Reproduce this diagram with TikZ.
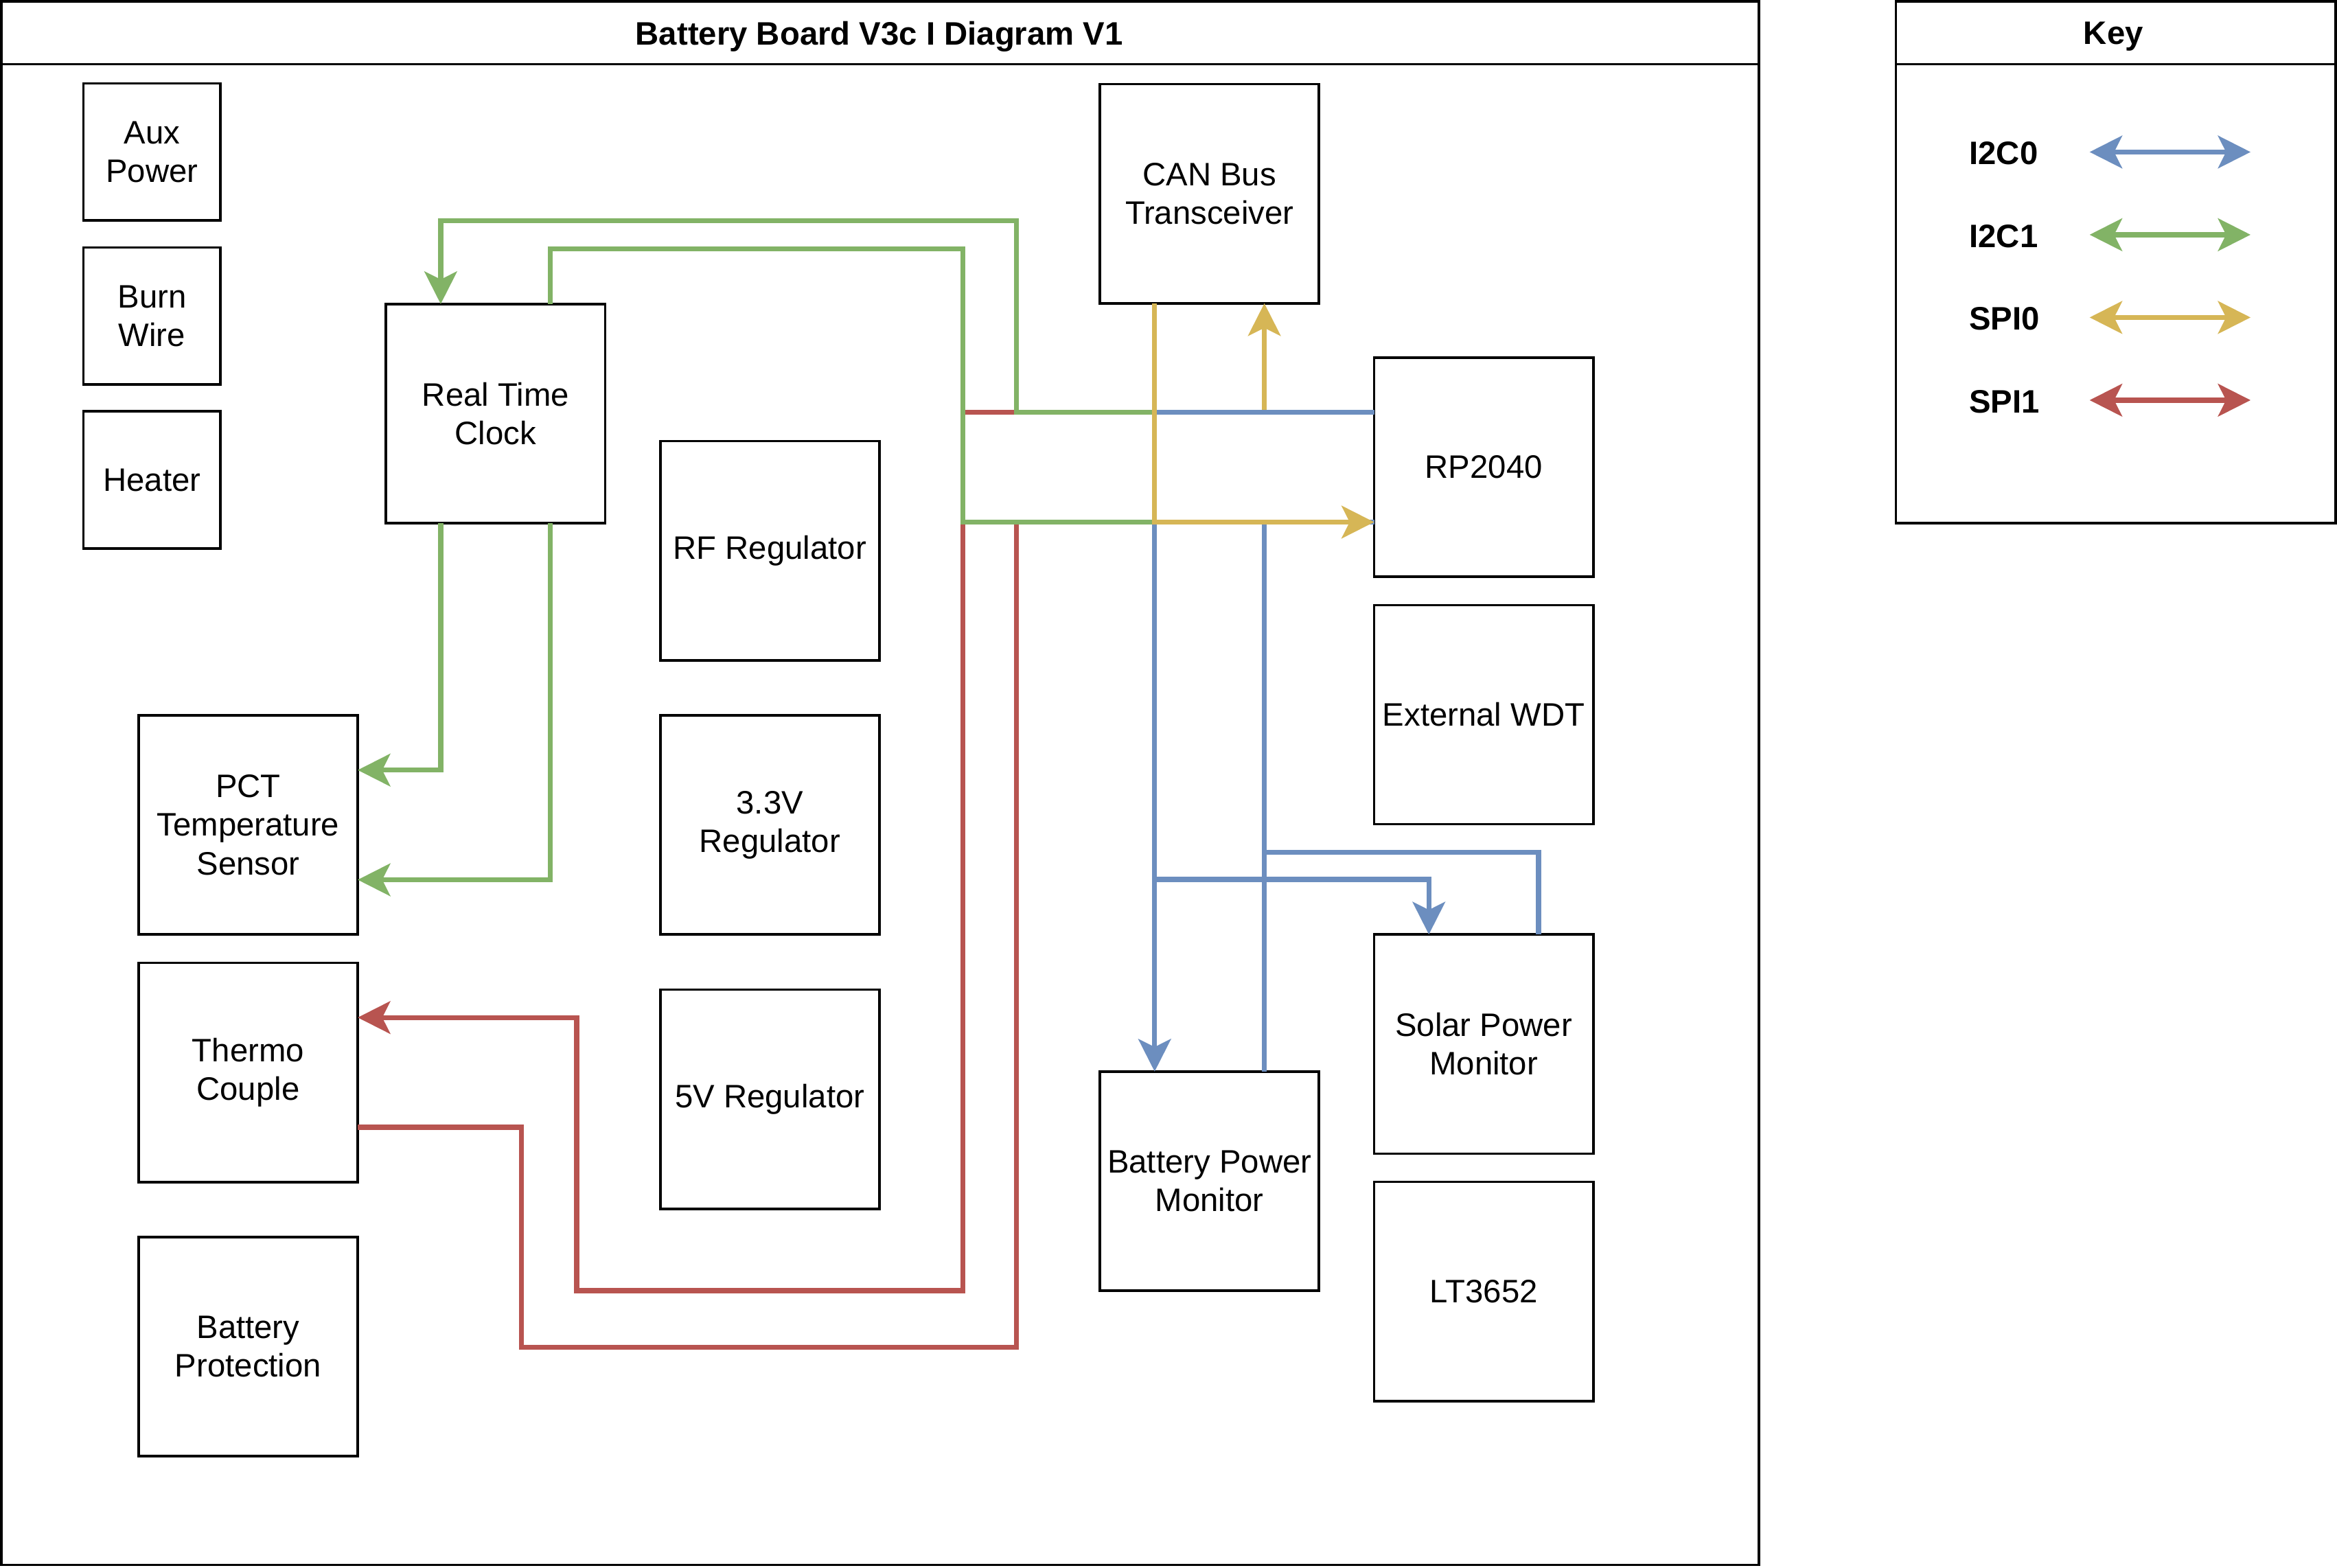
\documentclass[tikz,border=0pt]{standalone}
\usepackage{fontspec}
\setmainfont{Liberation Sans}
\usetikzlibrary{arrows.meta,positioning}
\definecolor{bluebus}{HTML}{6C8EBF}
\definecolor{greenbus}{HTML}{82B366}
\definecolor{yellowbus}{HTML}{D6B656}
\definecolor{redbus}{HTML}{B85450}

\begin{document}
\begin{tikzpicture}[x=0.025cm,y=-0.025cm,
  >={Stealth[length=15.5pt,width=15.5pt,inset=3.8pt]},
  block node/.style={rectangle,draw,line width=1.2pt,minimum width=3.675cm,
    minimum height=3.675cm,inner sep=0pt,outer sep=0pt,align=center,
    font=\fontsize{15.5}{18.5}\selectfont},
  small node/.style={block node,minimum width=2.3cm,minimum height=2.3cm},
  head node/.style={font=\fontsize{15.5}{18.5}\selectfont\bfseries},
  key node/.style={head node,anchor=west,inner sep=0pt},
  frame/.style={line width=1.2pt},
  i2c0/.style={line width=2.4pt,draw=bluebus},
  i2c1/.style={line width=2.4pt,draw=greenbus},
  spi0/.style={line width=2.4pt,draw=yellowbus},
  spi1/.style={line width=2.4pt,draw=redbus}]

  \useasboundingbox (0,0) rectangle (1568,1052);

  % frames
  \draw[frame] (1,1) rectangle (1180,1050);
  \draw[frame] (1,43) -- (1180,43);
  \draw[frame] (1272,1) rectangle (1567,351);
  \draw[frame] (1272,43) -- (1567,43);
  \node[head node] (title) at (590,24.5) {Battery Board V3c I Diagram V1};
  \node[head node] (key) at (1418,24.5) {Key};

  \node[small node] (aux) at (102,102) {Aux\\Power};
  \node[small node] (burn) [below=0.45cm of aux] {Burn\\Wire};
  \node[small node] (heater) [below=0.45cm of burn] {Heater};

  \node[block node] (rtc) at (332.5,277.5) {Real Time\\Clock};
  \node[block node] (pct) at (166.5,553.5) {PCT\\Temperature\\Sensor};
  \node[block node] (tc) [below=0.475cm of pct] {Thermo\\Couple};
  \node[block node] (bprot) [below=0.925cm of tc] {Battery\\Protection};

  \node[block node] (rfreg) at (516.5,369.5) {RF Regulator};
  \node[block node] (reg33) [below=0.925cm of rfreg] {3.3V\\Regulator};
  \node[block node] (reg5) [below=0.925cm of reg33] {5V Regulator};

  \node[block node] (can) at (811.5,130) {CAN Bus\\Transceiver};
  \node[block node] (bpm) at (811.5,792.5) {Battery Power\\Monitor};
  \node[block node] (rp) at (995.5,313.5) {RP2040};
  \node[block node] (wdt) [below=0.475cm of rp] {External WDT};
  \node[block node] (spm) at (995.5,700.5) {Solar Power\\Monitor};
  \node[block node] (lt) [below=0.475cm of spm] {LT3652};

  % ports
  \coordinate (rpA) at ([yshift=0.92cm]rp.west);
  \coordinate (rpB) at ([yshift=-0.92cm]rp.west);
  \coordinate (canA) at ([xshift=-0.92cm]can.south);
  \coordinate (canB) at ([xshift=0.92cm]can.south);
  \coordinate (rtcA) at ([xshift=-0.92cm]rtc.north);
  \coordinate (rtcB) at ([xshift=0.92cm]rtc.north);
  \coordinate (rtcC) at ([xshift=-0.92cm]rtc.south);
  \coordinate (rtcD) at ([xshift=0.92cm]rtc.south);
  \coordinate (pctA) at ([yshift=0.92cm]pct.east);
  \coordinate (pctB) at ([yshift=-0.92cm]pct.east);
  \coordinate (tcA) at ([yshift=0.92cm]tc.east);
  \coordinate (tcB) at ([yshift=-0.92cm]tc.east);
  \coordinate (bpmA) at ([xshift=-0.92cm]bpm.north);
  \coordinate (bpmB) at ([xshift=0.92cm]bpm.north);
  \coordinate (spmA) at ([xshift=-0.92cm]spm.north);
  \coordinate (spmB) at ([xshift=0.92cm]spm.north);

  % SPI1
  \draw[spi1,->] (rpA) -| (646,866) -- (387,866) |- (tcA);
  \draw[spi1] (rpB) -| (682,904) -- (350,904) |- (tcB);
  % I2C1
  \draw[i2c1,->] (rpA) -| (682,148) -| (rtcA);
  \draw[i2c1] (rpB) -| (646,167) -| (rtcB);
  \draw[i2c1,->] (rtcC) |- (pctA);
  \draw[i2c1,->] (rtcD) |- (pctB);
  % SPI0 to CAN
  \draw[spi0,->] (rpA) -| (canB);
  % I2C0
  \draw[i2c0,->] (rpA) -| (bpmA);
  \draw[i2c0,->] (bpmA |- 0,590) -| (spmA);
  \draw[i2c0] (spmB) |- (bpmB |- 0,572);
  \draw[i2c0] (bpmB) |- (rpB);
  % SPI0 from CAN
  \draw[spi0,->] (canA) |- (rpB);

  % key
  \foreach \name/\bus [count=\i from 0] in {I2C0/i2c0,I2C1/i2c1,SPI0/spi0,SPI1/spi1}{
    \node[key node] (k\i) at (1321,{103+55.5*\i}) {\name};
    \coordinate (kl\i) at (1402,{102+55.5*\i});
    \coordinate (kr\i) at (1510,{102+55.5*\i});
    \draw[\bus,<->] (kl\i) -- (kr\i);
  }
\end{tikzpicture}
\end{document}
